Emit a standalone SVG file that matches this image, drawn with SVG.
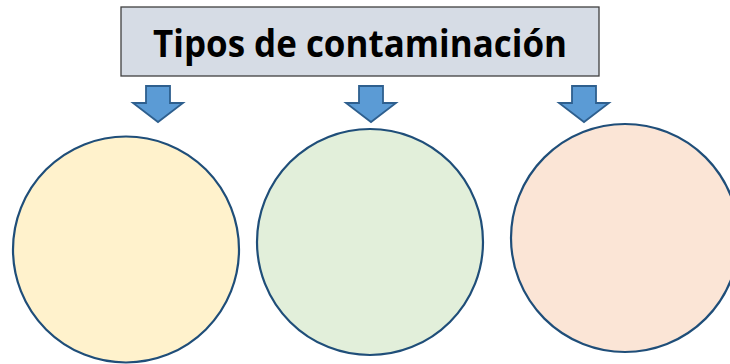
<svg xmlns="http://www.w3.org/2000/svg" width="730" height="364" viewBox="0 0 730 364">
<defs>
<style>
.title{fill:#D6DCE5;stroke:#404040;stroke-width:1.3}
.ttext{font-family:"Open Sans","Liberation Sans",sans-serif;font-weight:bold;font-size:37px;fill:#000}
.circ{stroke:#1F4E79;stroke-width:2.2}
.arr{fill:#5B9BD5;stroke:#2E5F8E;stroke-width:1.8;stroke-linejoin:miter}
</style>
<path id="arrow" d="M-12,0 H12 V17 H25 L0,36 L-25,17 H-12 Z"/>
</defs>
<rect width="730" height="364" fill="#fff"/>
<g id="title">
<rect class="title" x="121" y="7" width="478" height="69"/>
<text class="ttext" x="360" y="57" text-anchor="middle" textLength="414" lengthAdjust="spacingAndGlyphs">Tipos de contaminación</text>
</g>
<g id="connectors">
<use href="#arrow" class="arr" x="158" y="86"/>
<use href="#arrow" class="arr" x="371" y="86"/>
<use href="#arrow" class="arr" x="584" y="86"/>
</g>
<g id="circle1"><circle class="circ" cx="126" cy="249.5" r="113" fill="#FFF2CC"/></g>
<g id="circle2"><circle class="circ" cx="370" cy="242" r="113" fill="#E2EFDA"/></g>
<g id="circle3"><circle class="circ" cx="625" cy="238" r="114" fill="#FBE5D6"/></g>
</svg>
